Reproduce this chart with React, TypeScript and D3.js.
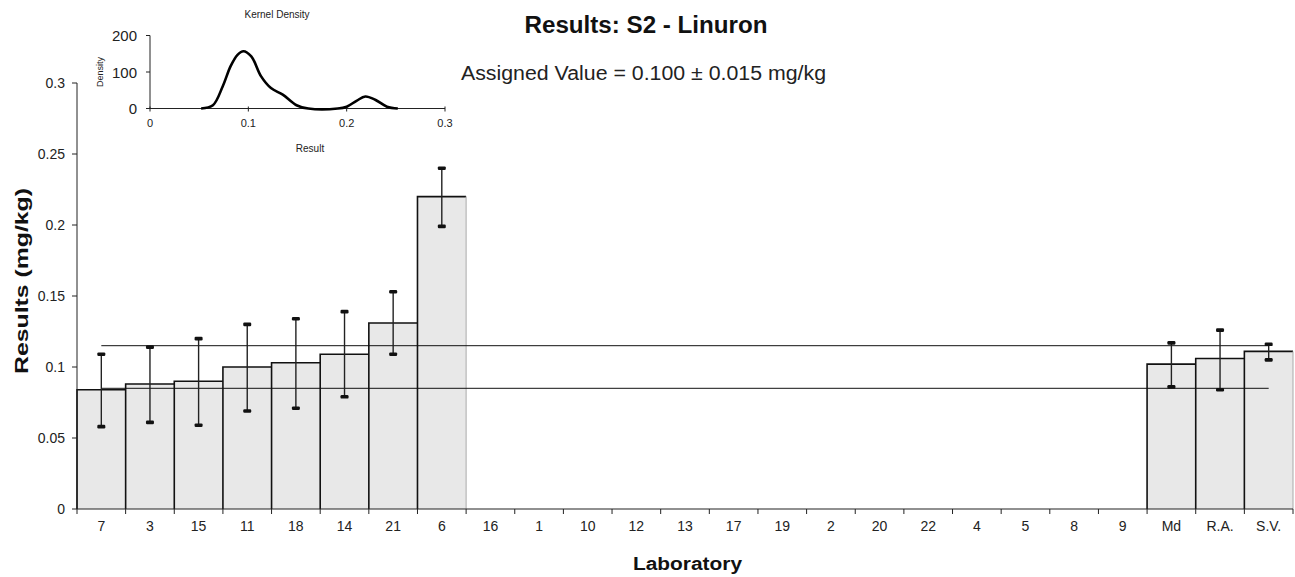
import React from "react";
import * as d3 from "d3";

// Laboratories in plotted order, followed by the summary statistics
const labs = ["7", "3", "15", "11", "18", "14", "21", "6", "16", "1", "10", "12", "13", "17", "19", "2", "20", "22", "4", "5", "8", "9", "Md", "R.A.", "S.V."];
const results: (number | null)[] = [0.084, 0.088, 0.090, 0.100, 0.103, 0.109, 0.131, 0.220, null, null, null, null, null, null, null, null, null, null, null, null, null, null, 0.102, 0.106, 0.111];
const lowerLimit: (number | null)[] = [0.058, 0.061, 0.059, 0.069, 0.071, 0.079, 0.109, 0.199, null, null, null, null, null, null, null, null, null, null, null, null, null, null, 0.086, 0.084, 0.105];
const upperLimit: (number | null)[] = [0.109, 0.114, 0.120, 0.130, 0.134, 0.139, 0.153, 0.240, null, null, null, null, null, null, null, null, null, null, null, null, null, null, 0.117, 0.126, 0.116];

const yTicks = [0, 0.05, 0.1, 0.15, 0.2, 0.25, 0.3];
const assignedValue = 0.1;
const assignedUncertainty = 0.015;

// Kernel density inset
const densityX = [0.052, 0.064, 0.074, 0.082, 0.089, 0.095, 0.103, 0.113, 0.123, 0.135, 0.149, 0.161, 0.191, 0.2, 0.21, 0.219, 0.229, 0.241, 0.252];
const densityY = [0, 9, 61, 116, 147, 157, 143, 88, 56, 38, 9, 0, 0, 5, 21, 33, 24, 5, 0];
const densityXTicks = [0, 0.1, 0.2, 0.3];
const densityYTicks = [0, 100, 200];

const FONT = "'Liberation Sans', Arial, sans-serif";

export default function App() {
  const W = 1295;
  const H = 577;
  const left = 77;
  const right = 1293;
  const bottom = 509;
  const top = 83;

  const x = d3.scaleBand<string>().domain(labs).range([left, right]).padding(0);
  const y = d3.scaleLinear().domain([0, 0.3]).range([bottom, top]);
  const bw = x.bandwidth();

  // inset scales
  const ix = d3.scaleLinear().domain([0, 0.3]).range([150, 445]);
  const iy = d3.scaleLinear().domain([0, 200]).range([108.5, 35.5]);
  const densityLine = d3
    .line<number>()
    .x((_, i) => ix(densityX[i]))
    .y((dv) => iy(dv))
    .curve(d3.curveCatmullRom.alpha(0.5));

  const bars = labs
    .map((lab, i) => ({ lab, v: results[i], lo: lowerLimit[i], hi: upperLimit[i], i }))
    .filter((b) => b.v !== null) as { lab: string; v: number; lo: number; hi: number; i: number }[];

  const firstCenter = (x(labs[0]) as number) + bw / 2;
  const lastCenter = (x(labs[labs.length - 1]) as number) + bw / 2;

  return (
    <div style={{ position: "absolute", left: 0, top: 0 }}>
      <svg width={W} height={H} style={{ display: "block", background: "#fff" }} fontFamily={FONT}>
        {/* bars */}
        {bars.map((b) => {
          const x0 = x(b.lab) as number;
          const nextHasBar = b.i + 1 < labs.length && results[b.i + 1] !== null;
          return (
            <g key={b.lab}>
              <rect x={x0} y={y(b.v)} width={bw} height={bottom - y(b.v)} fill="#e8e8e8" />
              <path d={`M${x0},${bottom} V${y(b.v)} H${x0 + bw}`} fill="none" stroke="#111" strokeWidth={1.6} />
              {!nextHasBar && (
                <line x1={x0 + bw} x2={x0 + bw} y1={y(b.v)} y2={bottom} stroke="#aaa" strokeWidth={1} />
              )}
            </g>
          );
        })}

        {/* assigned value ± uncertainty */}
        {[assignedValue + assignedUncertainty, assignedValue - assignedUncertainty].map((v, k) => (
          <line key={k} x1={firstCenter} x2={lastCenter} y1={y(v)} y2={y(v)} stroke="#111" strokeWidth={1} />
        ))}

        {/* error bars */}
        {bars.map((b) => {
          const cx = (x(b.lab) as number) + bw / 2;
          return (
            <g key={"e" + b.lab}>
              <line x1={cx} x2={cx} y1={y(b.hi)} y2={y(b.lo)} stroke="#222" strokeWidth={1.4} />
              <rect x={cx - 4} y={y(b.hi) - 1.8} width={8} height={3.6} rx={1.2} fill="#111" />
              <rect x={cx - 4} y={y(b.lo) - 1.8} width={8} height={3.6} rx={1.2} fill="#111" />
            </g>
          );
        })}

        {/* y axis */}
        <line x1={left} x2={left} y1={top} y2={bottom} stroke="#222" strokeWidth={1} />
        {yTicks.map((t) => (
          <g key={t}>
            <line x1={left - 5} x2={left} y1={y(t)} y2={y(t)} stroke="#222" />
            <text x={left - 12} y={y(t) + 5} textAnchor="end" fontSize={14} fill="#222">
              {String(t)}
            </text>
          </g>
        ))}
        <text
          transform={`translate(28,281) rotate(-90)`}
          textAnchor="middle"
          fontSize={19}
          fontWeight="bold"
          fill="#111"
          textLength={186}
          lengthAdjust="spacingAndGlyphs"
        >
          Results (mg/kg)
        </text>

        {/* x axis */}
        <line x1={left} x2={right} y1={bottom} y2={bottom} stroke="#222" strokeWidth={1.2} />
        {labs.map((lab) => {
          const x0 = x(lab) as number;
          return (
            <g key={"t" + lab}>
              <line x1={x0} x2={x0} y1={bottom} y2={bottom + 5} stroke="#222" />
              <text x={x0 + bw / 2} y={531} textAnchor="middle" fontSize={14} fill="#222">
                {lab}
              </text>
            </g>
          );
        })}
        <line x1={right} x2={right} y1={bottom} y2={bottom + 5} stroke="#222" />
        <text
          x={687.5}
          y={570}
          textAnchor="middle"
          fontSize={18}
          fontWeight="bold"
          fill="#111"
          textLength={109}
          lengthAdjust="spacingAndGlyphs"
        >
          Laboratory
        </text>

        {/* titles */}
        <text
          x={646}
          y={33}
          textAnchor="middle"
          fontSize={23}
          fontWeight="bold"
          fill="#111"
          textLength={243}
          lengthAdjust="spacingAndGlyphs"
        >
          Results: S2 - Linuron
        </text>
        <text
          x={643.5}
          y={80}
          textAnchor="middle"
          fontSize={20}
          fill="#222"
          textLength={365}
          lengthAdjust="spacingAndGlyphs"
        >
          Assigned Value = 0.100 ± 0.015 mg/kg
        </text>

        {/* kernel density inset */}
        <g>
          <text x={277} y={18} textAnchor="middle" fontSize={10} fill="#222">
            Kernel Density
          </text>
          <line x1={150} x2={150} y1={iy(200)} y2={iy(0)} stroke="#222" />
          <line x1={150} x2={445} y1={iy(0)} y2={iy(0)} stroke="#222" />
          {densityYTicks.map((t) => (
            <g key={"dy" + t}>
              <line x1={146} x2={150} y1={iy(t)} y2={iy(t)} stroke="#222" />
              <text x={137} y={iy(t) + 5.5} textAnchor="end" fontSize={15} fill="#222">
                {t}
              </text>
            </g>
          ))}
          {densityXTicks.map((t) => (
            <g key={"dx" + t}>
              <line x1={ix(t)} x2={ix(t)} y1={iy(0) - 2} y2={iy(0) + 3} stroke="#222" />
              <text x={ix(t)} y={127} textAnchor="middle" fontSize={11} fill="#222">
                {String(t)}
              </text>
            </g>
          ))}
          <text x={310} y={152} textAnchor="middle" fontSize={10} fill="#222">
            Result
          </text>
          <text transform={`translate(103,${(iy(0) + iy(200)) / 2}) rotate(-90)`} textAnchor="middle" fontSize={9} fill="#222">
            Density
          </text>
          <path d={densityLine(densityY) || ""} fill="none" stroke="#000" strokeWidth={2.6} strokeLinejoin="round" />
        </g>
      </svg>
    </div>
  );
}
